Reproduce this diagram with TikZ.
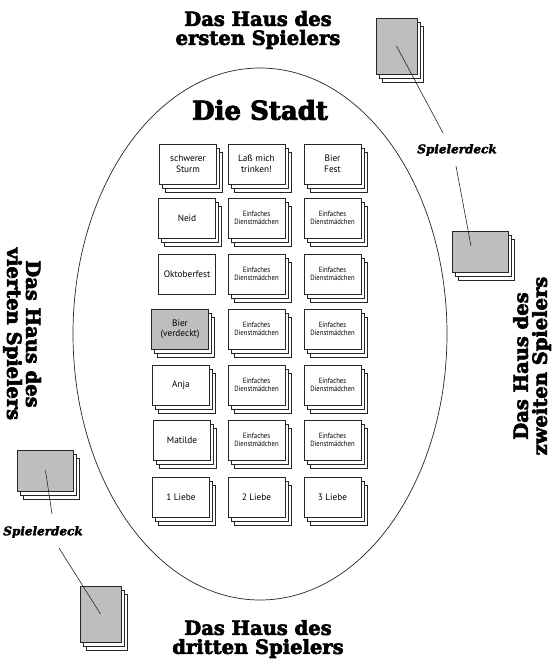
\documentclass[tikz,border=0pt]{standalone}
\usepackage{fontspec}
\setmainfont{DejaVu Serif}
\newfontfamily\heavyfont[BoldFeatures={FakeBold=3.2},BoldItalicFeatures={FakeBold=2.6}]{DejaVu Serif}
\newfontfamily\cardfont{PT Sans}
\newfontfamily\condfont[FakeStretch=0.88]{PT Sans}
\usetikzlibrary{shadows}
\definecolor{deckgray}{HTML}{BCBEC0}
\begin{document}
\begin{tikzpicture}[x=1pt,y=-1pt,
  card/.style={draw=black!85, line width=0.7pt, fill=white, minimum width=57pt, minimum height=40pt,
    inner sep=1pt, align=center, font=\cardfont\fontsize{9.3}{10.5}\selectfont},
  maid/.style={card, font=\condfont\fontsize{7.6}{8.6}\selectfont},
  stackcards/.style={copy shadow={shadow xshift=6pt,shadow yshift=-8pt,fill=white,draw=black!85,line width=0.7pt},
    copy shadow={shadow xshift=3pt,shadow yshift=-4pt,fill=white,draw=black!85,line width=0.7pt}},
  deck/.style={draw=black!85, line width=0.7pt, fill=deckgray, stackcards},
  portrait/.style={deck, minimum width=41pt, minimum height=56pt},
  landscape/.style={deck, minimum width=56pt, minimum height=41pt},
  house/.style={align=center, font=\heavyfont\bfseries\fontsize{19.5}{19}\selectfont, inner sep=0pt},
  decklabel/.style={font=\heavyfont\bfseries\itshape\fontsize{12}{13}\selectfont, inner sep=0pt},
  link/.style={draw=black!85, line width=0.6pt}
]
\useasboundingbox[fill=white] (0,0) rectangle (554,661);

% city
\draw[black!85, line width=0.7pt] (260,334) ellipse [x radius=187pt, y radius=266pt];
\node[font=\heavyfont\bfseries\fontsize{26}{28}\selectfont, inner sep=0pt] (stadt) at (260,110) {Die Stadt};

% column 1
\node[card, stackcards] (c11) at (188,164) {schwerer\\Sturm};
\node[card, stackcards] (c12) at (187,218) {Neid};
\node[card] (c13) at (187,274) {Oktoberfest};
\node[card, stackcards, fill=deckgray] (c14) at (180,329) {Bier\\(verdeckt)};
\node[card, stackcards] (c15) at (181,385) {Anja};
\node[card, stackcards] (c16) at (182,440) {Matilde};
\node[card, stackcards] (c17) at (181,497) {1 Liebe};
% column 2
\node[card, stackcards] (c21) at (256.5,164) {Laß mich\\trinken!};
\node[maid, stackcards] (c22) at (256.5,218) {Einfaches\\Dienstmädchen};
\node[maid, stackcards] (c23) at (256.5,274) {Einfaches\\Dienstmädchen};
\node[maid, stackcards] (c24) at (256.5,329) {Einfaches\\Dienstmädchen};
\node[maid, stackcards] (c25) at (256.5,385) {Einfaches\\Dienstmädchen};
\node[maid, stackcards] (c26) at (256.5,440) {Einfaches\\Dienstmädchen};
\node[card, stackcards] (c27) at (256.5,497) {2 Liebe};
% column 3
\node[card, stackcards] (c31) at (332.5,164) {Bier\\Fest};
\node[maid, stackcards] (c32) at (332.5,218) {Einfaches\\Dienstmädchen};
\node[maid, stackcards] (c33) at (332.5,274) {Einfaches\\Dienstmädchen};
\node[maid, stackcards] (c34) at (332.5,329) {Einfaches\\Dienstmädchen};
\node[maid, stackcards] (c35) at (332.5,385) {Einfaches\\Dienstmädchen};
\node[maid, stackcards] (c36) at (332.5,440) {Einfaches\\Dienstmädchen};
\node[card, stackcards] (c37) at (332.5,497) {3 Liebe};

% houses
\node[house] (h1) at (258,30) {Das Haus des\\ersten Spielers};
\node[house, rotate=90] (h2) at (532,366) {Das Haus des\\zweiten Spielers};
\node[house] (h3) at (258,639) {Das Haus des\\dritten Spielers};
\node[house, rotate=-90] (h4) at (22,334) {Das Haus des\\vierten Spielers};

% decks
\node[portrait] (d1) at (396.5,46) {};
\node[landscape] (d2) at (480,251.5) {};
\node[landscape] (d3) at (45.5,470.5) {};
\node[portrait] (d4) at (100.5,614) {};

\node[decklabel] (l1) at (457,150) {Spielerdeck};
\node[decklabel] (l2) at (43,532) {Spielerdeck};

\coordinate (e1) at (443,133);
\coordinate (e2) at (456,166);
\coordinate (e2b) at (471,246);
\coordinate (e3) at (52,514);
\coordinate (e4) at (59,548);

\draw[link] (d1.center) -- (e1);
\draw[link] (e2) -- (e2b);
\draw[link] (d3.center) -- (e3);
\draw[link] (e4) -- (d4.center);
\end{tikzpicture}
\end{document}
